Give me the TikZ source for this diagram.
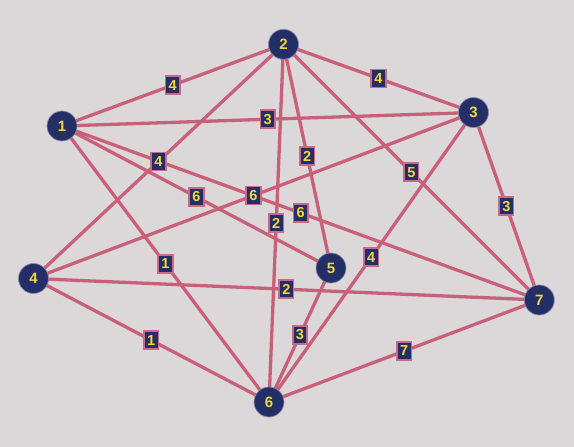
\documentclass[tikz,border=0pt]{standalone}
\usepackage{fontspec}
\setmainfont{Liberation Sans}
\newfontfamily\numfont{Liberation Sans}[BoldFont={Liberation Sans Bold}]
\usetikzlibrary{calc}
\definecolor{bg}{HTML}{DCD7D8}
\definecolor{navy}{HTML}{232F66}
\definecolor{gold}{HTML}{F3D63A}
\definecolor{edgec}{HTML}{C9607A}
\definecolor{lblborder}{HTML}{C96A84}
\pgfdeclarelayer{bglayer}
\pgfdeclarelayer{edgelayer}
\pgfsetlayers{bglayer,edgelayer,main}
\begin{document}
\begin{tikzpicture}[x=1pt,y=-1pt,
  vert/.style={circle,fill=navy,draw=navy!55!white,line width=0.7pt,minimum size=30pt,inner sep=0pt,text=gold,font=\numfont\bfseries\fontsize{15}{15}\selectfont},
  wlabel/.style={fill=navy,draw=lblborder,line width=1.6pt,minimum width=14.5pt,minimum height=18pt,inner sep=0pt,text=gold,font=\numfont\bfseries\fontsize{14.5}{14.5}\selectfont},
  link/.style={draw=edgec,line width=3.3pt}]
\begin{pgfonlayer}{bglayer}
\fill[bg] (0,0) rectangle (574,447);
\end{pgfonlayer}
\useasboundingbox (0,0) rectangle (574,447);
\node[vert] (n1) at (62,126) {1};
\node[vert] (n2) at (283.5,44.3) {2};
\node[vert] (n3) at (473.5,112.5) {3};
\node[vert] (n4) at (33.5,278.5) {4};
\node[vert] (n5) at (331,268) {5};
\node[vert] (n6) at (269,402) {6};
\node[vert] (n7) at (539.3,300) {7};
\foreach \a/\b/\w in {1/2/4,2/3/4,1/3/3,2/4/4,2/5/2,2/6/2,2/7/5,3/7/3,3/4/6,3/6/4,1/5/6,1/7/6,1/6/1,4/7/2,4/6/1,5/6/3,6/7/7}{
  \begin{pgfonlayer}{edgelayer}
  \path[link] (n\a.center) -- (n\b.center);
  \end{pgfonlayer}
  \node[wlabel] (l\a\b) at ($(n\a.center)!0.5!(n\b.center)$) {\w};
}
\end{tikzpicture}
\end{document}
